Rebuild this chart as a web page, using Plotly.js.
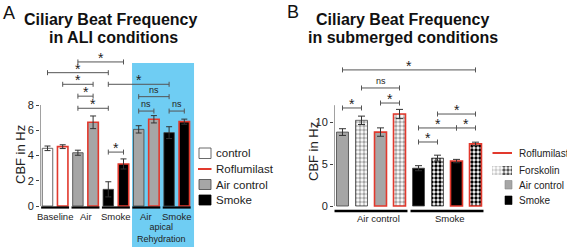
<!DOCTYPE html>
<html><head><meta charset="utf-8">
<script src="https://cdn.plot.ly/plotly-3.0.1.min.js"></script>
<style>html,body{margin:0;padding:0;background:#fff;}#chart{width:567px;height:249px;}</style>
</head><body><div id="chart"></div>
<script>
// ---------- Panel A data ----------
const catsA = ['Baseline control','Baseline Roflumilast','Air control','Air Roflumilast','Smoke','Smoke Roflumilast',
               'Rehydr. Air control','Rehydr. Air Roflumilast','Rehydr. Smoke','Rehydr. Smoke Roflumilast'];
const cbfA = [4.57, 4.70, 4.22, 6.63, 1.32, 3.33, 6.07, 6.87, 5.81, 6.68];
const errA = [0.18, 0.15, 0.20, 0.50, 0.60, 0.40, 0.29, 0.29, 0.47, 0.20];
const exposureA = ['control','control','air','air','smoke','smoke','air','air','smoke','smoke'];
const roflA = [false,true,false,true,false,true,false,true,false,true];
const groupLabelsA = ['Baseline','Air','Smoke','Air','Smoke'];
const groupStartA = [0,2,4,6,8];
const ticksA = [0,2,4,6,8];
const brFromA = [2,0,1,4,2,6,2,6,8,4];
const brToA   = [5,4,3,8,3,8,4,7,9,5];
const brYA    = [11.41,10.56,9.64,9.64,8.70,8.66,7.74,7.52,7.52,4.27];
const brLabA  = ['*','*','*','*','*','ns','*','ns','ns','*'];
const legendA = ['control','Roflumilast','Air control','Smoke'];

// ---------- Panel B data ----------
const catsB = ['Air control','Air Forskolin','Air Roflumilast','Air Roflumilast+Forskolin',
               'Smoke','Smoke Forskolin','Smoke Roflumilast','Smoke Roflumilast+Forskolin'];
const cbfB = [8.80, 10.20, 8.80, 10.95, 4.50, 5.70, 5.35, 7.40];
const errB = [0.40, 0.50, 0.50, 0.55, 0.30, 0.35, 0.20, 0.20];
const exposureB = ['air','air','air','air','smoke','smoke','smoke','smoke'];
const roflB = [false,false,true,true,false,false,true,true];
const forskB = [false,true,false,true,false,true,false,true];
const groupLabelsB = ['Air control','Smoke'];
const groupStartB = [0,4];
const ticksB = [0,5,10];
const brFromB = [0,1,0,2,5,4,6,4];
const brToB   = [7,3,1,3,7,6,7,5];
const brYB    = [16.2,14.05,11.67,12.26,10.95,9.29,9.29,7.62];
const brLabB  = ['*','ns','*','*','*','*','*','*'];
const legendB = ['Roflumilast','Forskolin','Air control','Smoke'];

// ---------- styles ----------
const W = 567, H = 249;
const FONT = 'Arial, "Liberation Sans", sans-serif';
const RED = '#e2392d', GREY = '#a6a6a6', DARK = '#444', BLUE = '#6fcdf3';
const fillOf = {control:'#ffffff', air:GREY, smoke:'#000000'};
const chk = {air:'#8c8c8c', smoke:'#000000'};
const px = x => x / W, py = y => 1 - y / H;
const PAT = {shape:'.', size:4, solidity:0.55};

// axes geometry (pixels)
const AX_A = {left:40, right:200, zero:206, unitPx:15.2, firstCenter:47.5};
const AX_B = {left:334, right:515, zero:206, unitPx:19, firstCenter:342.5};
const xRangeA = [(AX_A.left - AX_A.firstCenter)/AX_A.unitPx, (AX_A.right - AX_A.firstCenter)/AX_A.unitPx];
const xRangeB = [(AX_B.left - AX_B.firstCenter)/AX_B.unitPx, (AX_B.right - AX_B.firstCenter)/AX_B.unitPx];
const yPxA = 12.625, yPxB = 8.4;
const yRangeA = [-(H - AX_A.zero)/yPxA, AX_A.zero/yPxA];
const yRangeB = [-(H - AX_B.zero)/yPxB, AX_B.zero/yPxB];
const bxB = p => (p - AX_B.firstCenter)/AX_B.unitPx;   // pixel -> x2 data
const byB = p => (AX_B.zero - p)/yPxB;                  // pixel -> y2 data

const idxA = catsA.map((_, i) => i);
const idxB = catsB.map((_, i) => i);

const traces = [
  { type:'bar', uid:'barsA', x: idxA, y: cbfA, xaxis:'x', yaxis:'y', width:0.69, hovertext: catsA,
    marker:{ color: exposureA.map(e => fillOf[e]),
             line:{ color: roflA.map(r => r ? RED : DARK), width: roflA.map(r => r ? 1.6 : 0.8) } },
    error_y:{ type:'data', array: errA, color:'#333', thickness:1, width:3 } },
  { type:'bar', uid:'barsB', x: idxB, y: cbfB, xaxis:'x2', yaxis:'y2', width:0.63, hovertext: catsB,
    marker:{ color: exposureB.map(e => fillOf[e]),
             pattern:{ shape: forskB.map(f => f ? PAT.shape : ''), fillmode:'replace',
                       fgcolor: exposureB.map(e => chk[e]), bgcolor: forskB.map(f => '#ffffff'),
                       size:PAT.size, solidity:PAT.solidity },
             line:{ color: roflB.map(r => r ? RED : DARK), width: roflB.map(r => r ? 1.6 : 0.8) } },
    error_y:{ type:'data', array: errB, color:'#333', thickness:1, width:3.5 } },
  // y-axis lines
  { type:'scatter', mode:'lines', x:[xRangeA[0], xRangeA[0]], y:[0, ticksA[ticksA.length-1]], xaxis:'x', yaxis:'y',
    line:{color:DARK, width:1}, cliponaxis:false, hoverinfo:'skip' },
  { type:'scatter', mode:'lines', x:[xRangeB[0], xRangeB[0]], y:[0, 12], xaxis:'x2', yaxis:'y2',
    line:{color:DARK, width:1}, cliponaxis:false, hoverinfo:'skip' },
  // Forskolin legend swatch (light + dark checker)
  { type:'bar', uid:'forskSwatch', x:[bxB(497), bxB(507)], y:[byB(166) - byB(175), byB(166) - byB(175)], base:[byB(175), byB(175)],
    xaxis:'x2', yaxis:'y2', width: 10/AX_B.unitPx, hoverinfo:'none',
    marker:{ color:['#cccccc','#555555'], line:{width:0, color:'#bbb'},
             pattern:{ shape:[PAT.shape, PAT.shape], fillmode:'replace', fgcolor:[chk.air, chk.smoke], bgcolor:['#ffffff','#ffffff'],
                       size:PAT.size, solidity:PAT.solidity } } }
];

const shapes = [];
const annotations = [];

// apical rehydration background
shapes.push({ type:'rect', xref:'x', yref:'y', x0: 6 - 0.44, x1: 9 + 0.64, y0: -3.25, y1: 11.33,
              fillcolor: BLUE, line:{width:0}, layer:'below' });

function addBrackets(from, to, ys, labs, xr, yr) {
  for (let k = 0; k < from.length; k++) {
    const a = from[k], b = to[k], y = ys[k];
    shapes.push({ type:'line', xref:xr, yref:yr, x0:a, x1:b, y0:y, y1:y, line:{color:'#555', width:1} });
    [a, b].forEach(xx => shapes.push({ type:'line', xref:xr, yref:yr, x0:xx, x1:xx, ysizemode:'pixel', yanchor:y,
                                        y0:-2.5, y1:2.5, line:{color:'#555', width:1} }));
    const isStar = labs[k] === '*';
    annotations.push({ xref:xr, yref:yr, x:(a+b)/2, y:y, text:labs[k], showarrow:false, yanchor:'bottom', xanchor:'center',
                       yshift: isStar ? -6 : 0,
                       font:{ family:FONT, size: isStar ? 14 : 9, color:'#222' } });
  }
}
addBrackets(brFromA, brToA, brYA, brLabA, 'x', 'y');
addBrackets(brFromB, brToB, brYB, brLabB, 'x2', 'y2');

// group underlines + labels A
groupStartA.forEach((s, g) => {
  shapes.push({ type:'line', xref:'x', yref:'y', x0: s - 0.42, x1: s + 1 + 0.42, ysizemode:'pixel', yanchor:0,
                y0:-1.5, y1:-1.5, line:{color:'#000', width:2.2} });
  annotations.push({ xref:'x', yref:'y', x: s + 0.5, y:0, yshift:-10, yanchor:'middle', xanchor:'center', showarrow:false,
                     text: groupLabelsA[g], font:{family:FONT, size:9.5, color:'#222'} });
});
annotations.push({ xref:'x', yref:'y', x: 7.5, y:0, yshift:-27, yanchor:'middle', xanchor:'center', showarrow:false,
                   text:'apical<br>Rehydration', font:{family:FONT, size:9, color:'#222'} });

// group underlines + labels B
groupStartB.forEach((s, g) => {
  shapes.push({ type:'line', xref:'x2', yref:'y2', x0: s - 0.42, x1: s + 3 + 0.42, ysizemode:'pixel', yanchor:0,
                y0:-5, y1:-5, line:{color:'#000', width:2.4} });
  annotations.push({ xref:'x2', yref:'y2', x: s + 1.5, y:0, yshift:-12, xshift: g === 0 ? 7 : 3, yanchor:'middle', xanchor:'center',
                     showarrow:false, text: groupLabelsB[g], font:{family:FONT, size:9.5, color:'#222'} });
});

// titles
const tfont = {family:FONT, size:16, color:'#111'};
const paperNote = (x, y, text, font, extra) => annotations.push(Object.assign({ xref:'paper', yref:'paper', x:px(x), y:py(y),
   text, showarrow:false, font, xanchor:'center', yanchor:'middle' }, extra || {}));
paperNote(111, 19.5, '<b>Ciliary Beat Frequency</b>', tfont);
paperNote(113, 37.5, '<b>in ALI conditions</b>', tfont);
paperNote(402.5, 19.5, '<b>Ciliary Beat Frequency</b>', tfont);
paperNote(402.5, 37.5, '<b>in submerged conditions</b>', tfont);
paperNote(9, 13, 'A', {family:FONT, size:18, color:'#111'});
paperNote(292.5, 11.5, 'B', {family:FONT, size:18, color:'#111'});

// y titles
paperNote(20, 155, 'CBF in Hz', {family:FONT, size:13, color:'#222'}, {textangle:-90});
paperNote(313, 152, 'CBF in Hz', {family:FONT, size:13, color:'#222'}, {textangle:-90});

// legend A
const legYA = [153, 169, 184.5, 200];
shapes.push({ type:'rect', xref:'paper', yref:'paper', x0:px(199), x1:px(211), y0:py(148), y1:py(158.5), fillcolor:'#fff', line:{color:DARK, width:0.8} });
shapes.push({ type:'line', xref:'paper', yref:'paper', x0:px(198), x1:px(211.5), y0:py(169), y1:py(169), line:{color:RED, width:2} });
shapes.push({ type:'rect', xref:'paper', yref:'paper', x0:px(199), x1:px(211), y0:py(179.5), y1:py(189.5), fillcolor:GREY, line:{color:DARK, width:0.8} });
shapes.push({ type:'rect', xref:'paper', yref:'paper', x0:px(199), x1:px(211), y0:py(195), y1:py(205), fillcolor:'#000', line:{color:'#000', width:0.8} });
legendA.forEach((t, i) => paperNote(214, legYA[i], t, {family:FONT, size:11.5, color:'#222'}, {xanchor:'left'}));

// legend B
const legYB = [153, 170, 185, 200];
shapes.push({ type:'line', xref:'paper', yref:'paper', x0:px(492.5), x1:px(512), y0:py(153), y1:py(153), line:{color:RED, width:2} });
shapes.push({ type:'rect', xref:'paper', yref:'paper', x0:px(505), x1:px(512), y0:py(180.5), y1:py(189), fillcolor:GREY, line:{color:'#888', width:0.6} });
shapes.push({ type:'rect', xref:'paper', yref:'paper', x0:px(505), x1:px(512), y0:py(196), y1:py(204.5), fillcolor:'#000', line:{color:'#000', width:0.6} });
legendB.forEach((t, i) => paperNote(517, legYB[i], t, {family:FONT, size:10, color:'#222'}, {xanchor:'left'}));

const yax = (range, ticks, anchor) => ({ domain:[0,1], range, tickvals:ticks, ticks:'outside', ticklen:3, tickwidth:1,
   tickcolor:DARK, showgrid:false, zeroline:false, showline:false, anchor, fixedrange:true,
   tickfont:{family:FONT, size:11, color:'#222'} });
const xax = (dom, range, anchor) => ({ domain:dom, range, visible:false, anchor, fixedrange:true });

const layout = {
  width:W, height:H, margin:{l:0, r:0, t:0, b:0}, paper_bgcolor:'#fff', plot_bgcolor:'rgba(0,0,0,0)',
  showlegend:false, barmode:'overlay', bargap:0, font:{family:FONT},
  xaxis: xax([px(AX_A.left), px(AX_A.right)], xRangeA, 'y'),
  yaxis: yax(yRangeA, ticksA, 'x'),
  xaxis2: xax([px(AX_B.left), px(AX_B.right)], xRangeB, 'y2'),
  yaxis2: yax(yRangeB, ticksB, 'x2'),
  shapes, annotations
};
Plotly.newPlot('chart', traces, layout, {staticPlot:true, displayModeBar:false});
</script></body></html>
